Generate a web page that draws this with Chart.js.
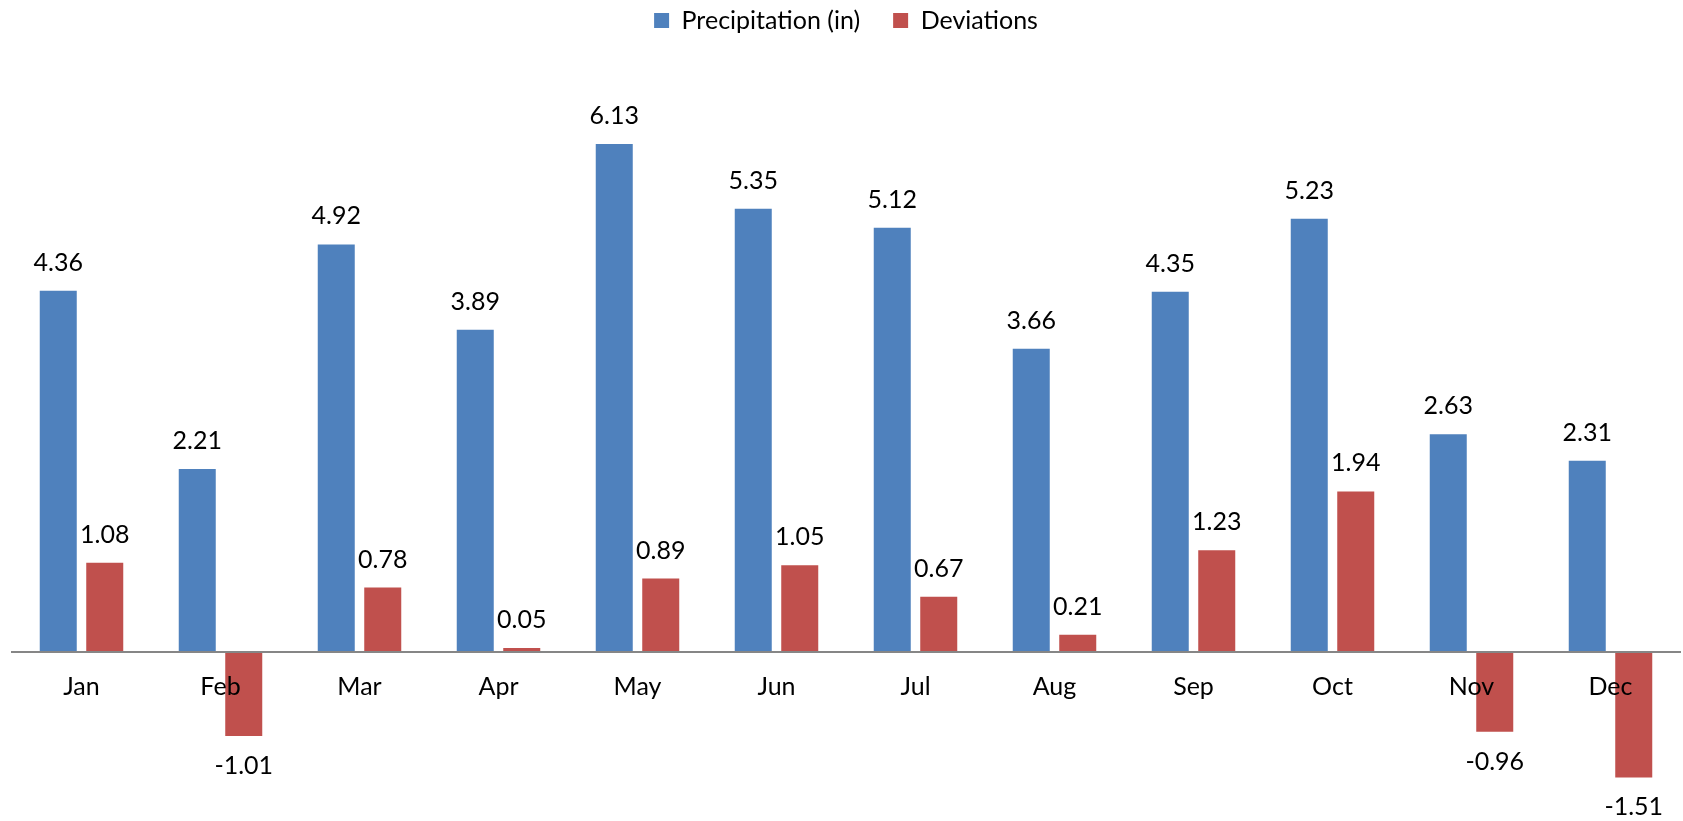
<!DOCTYPE html>
<html>
<head>
<meta charset="utf-8">
<script src="https://cdn.jsdelivr.net/npm/chart.js@4.4.1/dist/chart.umd.min.js"></script>
<style>
  html, body { margin: 0; padding: 0; background: #fff; }
  #wrap { width: 1683px; height: 821px; }
</style>
</head>
<body>
<div id="wrap"><canvas id="myChart" width="1683" height="821"></canvas></div>
<script>
const months = ["Jan","Feb","Mar","Apr","May","Jun","Jul","Aug","Sep","Oct","Nov","Dec"];
const precip = [4.36, 2.21, 4.92, 3.89, 6.13, 5.35, 5.12, 3.66, 4.35, 5.23, 2.63, 2.31];
const deviations = [1.08, -1.01, 0.78, 0.05, 0.89, 1.05, 0.67, 0.21, 1.23, 1.94, -0.96, -1.51];

const fontName = "Lato";

// value labels above / below each bar
const barLabels = {
    id: "barLabels",
    afterDatasetsDraw(chart) {
        const ctx = chart.ctx;
        ctx.save();
        ctx.font = "25px " + fontName;
        ctx.fillStyle = "#000";
        ctx.textAlign = "center";
        ctx.textBaseline = "middle";
        chart.data.datasets.forEach(function(ds, i) {
            chart.getDatasetMeta(i).data.forEach(function(bar, j) {
                const v = ds.data[j];
                const y = v >= 0 ? bar.y - 28 : bar.y + 30;
                ctx.fillText(v.toFixed(2), bar.x, y);
            });
        });
        ctx.restore();
    }
};

// fixed legend height so the plot area starts lower
const legendSpace = {
    id: "legendSpace",
    beforeInit(chart) {
        const fit = chart.legend.fit;
        chart.legend.fit = function() {
            fit.bind(chart.legend)();
            this.height = 97;
        };
    }
};

Chart.defaults.font.family = fontName;
Chart.defaults.color = "#000";

new Chart(document.getElementById("myChart"), {
    type: "bar",
    data: {
        labels: months,
        datasets: [
            { label: "Precipitation (in)", data: precip, backgroundColor: "#4F81BD" },
            { label: "Deviations", data: deviations, backgroundColor: "#C0504D" }
        ]
    },
    options: {
        responsive: false,
        animation: false,
        categoryPercentage: 0.669,
        barPercentage: 0.796,
        layout: { padding: { left: 12, right: 3, top: -25, bottom: 3 } },
        plugins: {
            legend: {
                position: "top",
                labels: { boxWidth: 15, boxHeight: 15, padding: 33, font: { size: 25 } }
            },
            tooltip: { enabled: false }
        },
        scales: {
            x: {
                position: { y: 0 },
                grid: { display: false, drawTicks: false },
                border: { display: true, color: "#868686", width: 2, z: 1 },
                ticks: { padding: 20, font: { size: 25 }, z: 1 }
            },
            y: {
                display: false,
                min: -2,
                max: 7
            }
        }
    },
    plugins: [barLabels, legendSpace]
});
</script>
</body>
</html>
